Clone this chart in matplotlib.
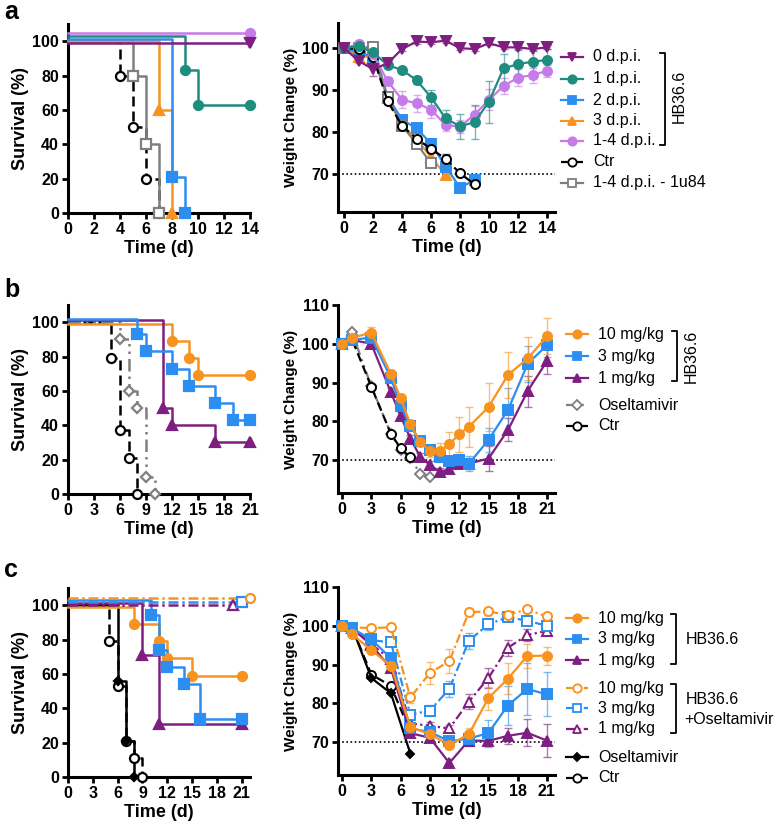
import matplotlib
matplotlib.use('Agg')
import matplotlib.pyplot as plt

plt.rcParams['font.family'] = ['Liberation Sans', 'DejaVu Sans']

# ---------------------------------------------------------------- colours
PURPLE = '#7E1E80'
TEAL = '#1E8C7E'
BLUE = '#2B8EF0'
ORANGE = '#F7931E'
VIOLET = '#C57BE8'
GRAY = '#7F7F7F'
BLACK = '#000000'

# ---------------------------------------------------------------- panel a data
# survival: days of death and survival (%) after each step
a_surv_0dpi_t, a_surv_0dpi_v = [], []
a_surv_1dpi_t, a_surv_1dpi_v = [9, 10], [83, 63]
a_surv_2dpi_t, a_surv_2dpi_v = [8, 9], [21, 0]
a_surv_3dpi_t, a_surv_3dpi_v = [7, 8], [60, 0]
a_surv_14dpi_t, a_surv_14dpi_v = [], []
a_surv_ctr_t, a_surv_ctr_v = [4, 5, 6, 7], [80, 50, 20, 0]
a_surv_1u84_t, a_surv_1u84_v = [5, 6, 7], [80, 40, 0]

a_days = list(range(15))
a_w_0dpi = [100, 97, 95, 96.4, 99.8, 101.6, 101.4, 101.8, 100, 99.8, 101.2, 100.2, 100.2, 99.8, 100.2]
a_e_0dpi = [0, 0.5, 1.5, 1, 0.5, 0.5, 0.5, 0.5, 0.5, 0.5, 0.5, 0.5, 0.5, 0.5, 0.5]
a_w_1dpi = [100, 100.5, 99, 96, 94.8, 92.4, 88.3, 83.3, 81.4, 82.4, 87.3, 95.2, 96.2, 96.8, 97.2]
a_e_1dpi = [0, 0.5, 0.5, 0.5, 0.5, 1, 1.8, 2, 3, 4, 5, 3.5, 3.3, 2.8, 2.5]
a_w_2dpi = [100, 99, 98, 88.5, 83, 80.9, 77.3, 71.8, 66.8, 68.6]
a_e_2dpi = [0, 0.5, 0.5, 1, 1, 1, 1.2, 1, 1, 0.5]
a_w_3dpi = [100, 98, 98, 88.2, 81.7, 78.3, 74.1, 69.8]
a_e_3dpi = [0, 0.5, 0.5, 1, 1, 1, 1.2, 0.5]
a_w_14dpi = [100, 101, 98.5, 92.2, 87.7, 86.9, 85.4, 81.7, 81.3, 84.2, 87.7, 91, 93, 93.6, 94.6]
a_e_14dpi = [0, 1, 1.5, 1, 2, 2, 2, 1.5, 1.5, 2, 2.5, 2, 2, 1.8, 1.5]
a_w_ctr = [100, 99.8, 98, 87.4, 81.5, 78.5, 76, 73.7, 70.2, 67.6]
a_e_ctr = [0, 0.3, 0.5, 0.5, 0.5, 0.5, 0.8, 1.2, 0.5, 0.5]
a_w_1u84 = [100, 100, 100.4, 88.5, 81.5, 77.3, 72.6]
a_e_1u84 = [0, 0.3, 0.3, 0.5, 0.5, 0.5, 0.5]

a_labels = ['0 d.p.i.', '1 d.p.i.', '2 d.p.i.', '3 d.p.i.', '1-4 d.p.i.', 'Ctr', '1-4 d.p.i. - 1u84']

# ---------------------------------------------------------------- panel b data
b_surv_10_t, b_surv_10_v = [12, 14, 15], [89, 79, 69]
b_surv_3_t, b_surv_3_v = [8, 9, 12, 14, 17, 19], [93, 83, 73, 63, 53, 43]
b_surv_1_t, b_surv_1_v = [11, 12, 17], [50, 40, 30]
b_surv_osel_t, b_surv_osel_v = [6, 7, 8, 9, 10], [90, 60, 50, 10, 0]
b_surv_ctr_t, b_surv_ctr_v = [5, 6, 7, 8], [79, 37, 21, 0]

b_days = [0, 1, 3, 5, 6, 7, 8, 9, 10, 11, 12, 13, 15, 17, 19, 21]
b_w_10 = [100, 101.5, 102.9, 92.2, 85.9, 79.3, 74.6, 72.4, 72.3, 74.1, 76.7, 78.6, 83.7, 92, 96.2, 102]
b_e_10 = [0, 0.5, 1.5, 1, 1, 1, 1, 1.5, 2, 3.2, 4.5, 5.2, 6.2, 6, 5.5, 4.6]
b_w_3 = [100, 101, 101.6, 91.2, 84, 78.7, 74.9, 72.6, 70.9, 69.8, 70, 69.1, 75.2, 83, 94.8, 99.7]
b_e_3 = [0, 0.5, 0.5, 1, 1, 1, 1, 1, 1, 1, 1.5, 2, 3, 5.5, 4.6, 3]
b_w_1 = [100, 101, 100, 87.5, 81.4, 75.5, 70.9, 68.7, 67, 67.6, 68.9, 69.1, 70.4, 77.8, 87.8, 95.6]
b_e_1 = [0, 0.5, 0.5, 1, 1, 1, 1, 1, 1, 1, 1, 1.5, 3.3, 3, 4, 3.5]
b_days_osel = [0, 1, 3, 5, 6, 7, 8, 9]
b_w_osel = [100, 103.1, 89, 76.8, 72.6, 70.5, 66.5, 65.7]
b_days_ctr = [0, 1, 3, 5, 6, 7]
b_w_ctr = [100, 101.3, 88.9, 76.8, 73, 70.7]

b_labels = ['10 mg/kg', '3 mg/kg', '1 mg/kg', 'Oseltamivir', 'Ctr']

# ---------------------------------------------------------------- panel c data
c_surv_10_t, c_surv_10_v = [8, 11, 12, 15], [89, 79, 69, 59]
c_surv_3_t, c_surv_3_v = [10, 11, 12, 14, 16], [94, 74, 64, 54, 34]
c_surv_1_t, c_surv_1_v = [9, 11], [71, 31]
c_surv_10o_t, c_surv_10o_v = [], []
c_surv_3o_t, c_surv_3o_v = [], []
c_surv_1o_t, c_surv_1o_v = [], []
c_surv_osel_t, c_surv_osel_v = [6, 7, 8], [56, 21, 0]
c_surv_ctr_t, c_surv_ctr_v = [5, 6, 7, 8, 9], [79, 53, 21, 11, 0]

c_days = [0, 1, 3, 5, 7, 9, 11, 13, 15, 17, 19, 21]
c_w_10 = [100, 97.8, 93.7, 89.7, 73.9, 72, 69.3, 72, 81.3, 86.3, 92.2, 92.3]
c_e_10 = [0, 0.5, 0.8, 0.8, 1, 1, 1, 1.5, 3, 4, 3, 2.3]
c_w_3 = [100, 99.3, 96.5, 91.6, 73.5, 72.6, 70.2, 70.9, 72.3, 79.4, 83.7, 82.3]
c_e_3 = [0, 0.5, 0.8, 0.8, 1, 1, 1, 2, 3.5, 5, 6.6, 5.7]
c_w_1 = [100, 99.5, 95, 89, 72.3, 71.1, 64.6, 70.4, 70.3, 71.6, 72.4, 70.4]
c_e_1 = [0, 0.5, 0.8, 0.8, 1, 1, 1, 1, 1, 2, 3.5, 4.2]
c_w_10o = [100, 99.6, 99.4, 99.6, 81.5, 87.8, 90.9, 103.5, 103.7, 102.8, 104.2, 102.4]
c_e_10o = [0, 0.5, 0.5, 1, 1.5, 2.8, 3, 1, 1, 1, 1, 1]
c_w_3o = [100, 99.3, 96.3, 95.7, 77.1, 78.1, 83.7, 96.1, 100.4, 102.2, 101.3, 100]
c_e_3o = [0, 0.5, 0.5, 1, 1, 1.5, 2, 2, 1.5, 1, 1, 1]
c_w_1o = [100, 99.3, 95.2, 91.3, 74.8, 74.2, 73.5, 80.4, 86.5, 94.3, 97.6, 98.7]
c_e_1o = [0, 0.5, 0.5, 1, 1, 1, 1, 2, 2.5, 2, 1.5, 1]
c_days_ctl = [0, 1, 3, 5, 7]
c_w_osel = [100, 99.7, 86.5, 82.6, 67]
c_w_ctr = [100, 99.6, 87.4, 84.5, 72.6]

c_labels = ['10 mg/kg', '3 mg/kg', '1 mg/kg', '10 mg/kg', '3 mg/kg', '1 mg/kg', 'Oseltamivir', 'Ctr']

# ---------------------------------------------------------------- styles
DASH = (0, (4, 2))
DDOT = (0, (5, 2, 1, 2, 1, 2))
DDASH = (0, (4, 1.5, 1, 1.5))


def st(color, marker, filled=True, ls='-', ms=6.5):
    return dict(color=color, marker=marker, ls=ls, ms=ms,
                mfc=color if filled else 'white', mec=color)


S_a = [st(PURPLE, 'v'), st(TEAL, 'o'), st(BLUE, 's'), st(ORANGE, '^'),
       st(VIOLET, 'o'), st(BLACK, 'o', False, DASH), st(GRAY, 's', False)]
S_b = [st(ORANGE, 'o'), st(BLUE, 's'), st(PURPLE, '^'),
       st(GRAY, 'D', False, DDOT, 5.5), st(BLACK, 'o', False, DASH)]
S_c = [st(ORANGE, 'o'), st(BLUE, 's'), st(PURPLE, '^'),
       st(ORANGE, 'o', False, DDASH), st(BLUE, 's', False, DDASH), st(PURPLE, '^', False, DDASH),
       st(BLACK, 'D', ms=4.5), st(BLACK, 'o', False, DASH)]

W = 778
H = 827
fig = plt.figure(figsize=(W / 100, H / 100), dpi=100)


def px_axes(x0, x1, y_bot, y_top):
    return fig.add_axes([x0 / W, (H - y_bot) / H, (x1 - x0) / W, (y_bot - y_top) / H])


def style_axes(ax):
    for s in ['top', 'right']:
        ax.spines[s].set_visible(False)
    for s in ['left', 'bottom']:
        ax.spines[s].set_linewidth(2.2)
    ax.tick_params(width=2, length=4.5, labelsize=11.5, pad=2)
    for lab in ax.get_xticklabels() + ax.get_yticklabels():
        lab.set_fontweight('bold')


def km(ax, drop_t, drop_v, end, s, top=100, mark_end=True):
    xs, ys = [0], [top]
    cur = top
    for t, v in zip(drop_t, drop_v):
        xs += [t, t]
        ys += [cur, v]
        cur = v
    mx, my = list(drop_t), list(drop_v)
    if cur > 0:
        xs.append(end)
        ys.append(cur)
        if mark_end:
            mx.append(end)
            my.append(cur)
    ax.plot(xs, ys, color=s['color'], ls=s['ls'], lw=1.8, clip_on=False, zorder=3)
    ax.plot(mx, my, ls='none', marker=s['marker'], ms=s['ms'], mfc=s['mfc'], mec=s['mec'],
            mew=1.6, clip_on=False, zorder=4)


def weight(ax, x, y, e, s):
    if e is not None:
        ax.errorbar(x, y, yerr=e, fmt='none', ecolor=s['color'], elinewidth=1,
                    capsize=3, capthick=1, alpha=0.6, zorder=2)
    ax.plot(x, y, color=s['color'], ls=s['ls'], lw=1.6, marker=s['marker'], ms=s['ms'],
            mfc=s['mfc'], mec=s['mec'], mew=1.4, clip_on=False, zorder=3)


def surv_axes(y_bot, y_top, xmax, xticks):
    ax = px_axes(68, 250, y_bot, y_top)
    ax.set_xlim(0, xmax)
    ax.set_ylim(0, 110)
    ax.set_xticks(xticks)
    ax.set_yticks([0, 20, 40, 60, 80, 100])
    style_axes(ax)
    ax.set_xlabel('Time (d)', fontsize=13, fontweight='bold', labelpad=2)
    ax.set_ylabel('Survival (%)', fontsize=13, fontweight='bold', labelpad=2)
    return ax


def weight_axes(y_bot, y_top, xlim, ylim, xticks, yticks):
    ax = px_axes(338, 555, y_bot, y_top)
    ax.set_xlim(*xlim)
    ax.set_ylim(*ylim)
    ax.set_xticks(xticks)
    ax.set_yticks(yticks)
    style_axes(ax)
    ax.axhline(70, color='k', ls=(0, (1, 1.5)), lw=1.2, zorder=1)
    ax.set_xlabel('Time (d)', fontsize=13, fontweight='bold', labelpad=2)
    ax.set_ylabel('Weight Change (%)', fontsize=11, fontweight='bold', labelpad=3)
    return ax


# ---------------------------------------------------------------- panel a
ax = surv_axes(213, 24, 14, range(0, 15, 2))
km(ax, a_surv_ctr_t, a_surv_ctr_v, 14, S_a[5])
km(ax, a_surv_1u84_t, a_surv_1u84_v, 14, S_a[6])
km(ax, a_surv_3dpi_t, a_surv_3dpi_v, 14, S_a[3])
km(ax, a_surv_2dpi_t, a_surv_2dpi_v, 14, S_a[2], top=101)
km(ax, a_surv_1dpi_t, a_surv_1dpi_v, 14, S_a[1], top=103)
km(ax, a_surv_14dpi_t, a_surv_14dpi_v, 14, S_a[4], top=105)
km(ax, a_surv_0dpi_t, a_surv_0dpi_v, 14, S_a[0], top=99)

ax = weight_axes(212, 23, (-0.42, 14.55), (61, 106), range(0, 15, 2), [70, 80, 90, 100])
weight(ax, a_days[:len(a_w_3dpi)], a_w_3dpi, a_e_3dpi, S_a[3])
weight(ax, a_days[:len(a_w_2dpi)], a_w_2dpi, a_e_2dpi, S_a[2])
weight(ax, a_days[:len(a_w_1u84)], a_w_1u84, a_e_1u84, S_a[6])
weight(ax, a_days[:len(a_w_ctr)], a_w_ctr, a_e_ctr, S_a[5])
weight(ax, a_days, a_w_14dpi, a_e_14dpi, S_a[4])
weight(ax, a_days, a_w_1dpi, a_e_1dpi, S_a[1])
weight(ax, a_days, a_w_0dpi, a_e_0dpi, S_a[0])

# ---------------------------------------------------------------- panel b
ax = surv_axes(494, 305, 21, range(0, 22, 3))
km(ax, b_surv_ctr_t, b_surv_ctr_v, 21, S_b[4])
km(ax, b_surv_osel_t, b_surv_osel_v, 21, S_b[3])
km(ax, b_surv_10_t, b_surv_10_v, 21, S_b[0], top=99)
km(ax, b_surv_1_t, b_surv_1_v, 21, S_b[2], top=101)
km(ax, b_surv_3_t, b_surv_3_v, 21, S_b[1], top=102)

ax = weight_axes(493, 305, (-0.41, 21.8), (61.5, 110), range(0, 22, 3), [70, 80, 90, 100, 110])
weight(ax, b_days_osel, b_w_osel, None, S_b[3])
weight(ax, b_days_ctr, b_w_ctr, None, S_b[4])
weight(ax, b_days, b_w_1, b_e_1, S_b[2])
weight(ax, b_days, b_w_3, b_e_3, S_b[1])
weight(ax, b_days, b_w_10, b_e_10, S_b[0])

# ---------------------------------------------------------------- panel c
ax = surv_axes(777, 588, 22, range(0, 22, 3))
km(ax, c_surv_ctr_t, c_surv_ctr_v, 21, S_c[7])
km(ax, c_surv_osel_t, c_surv_osel_v, 21, S_c[6])
km(ax, c_surv_10_t, c_surv_10_v, 21, S_c[0], top=99)
km(ax, c_surv_1_t, c_surv_1_v, 21, S_c[2], top=101)
km(ax, c_surv_3_t, c_surv_3_v, 21, S_c[1], top=103)
km(ax, c_surv_1o_t, c_surv_1o_v, 20, S_c[5], top=100)
km(ax, c_surv_3o_t, c_surv_3o_v, 21, S_c[4], top=102)
km(ax, c_surv_10o_t, c_surv_10o_v, 22, S_c[3], top=104)

ax = weight_axes(775, 587, (-0.43, 21.85), (61.5, 110), range(0, 22, 3), [70, 80, 90, 100, 110])
weight(ax, c_days_ctl, c_w_ctr, None, S_c[7])
weight(ax, c_days_ctl, c_w_osel, None, S_c[6])
weight(ax, c_days, c_w_1o, c_e_1o, S_c[5])
weight(ax, c_days, c_w_3o, c_e_3o, S_c[4])
weight(ax, c_days, c_w_10o, c_e_10o, S_c[3])
weight(ax, c_days, c_w_1, c_e_1, S_c[2])
weight(ax, c_days, c_w_3, c_e_3, S_c[1])
weight(ax, c_days, c_w_10, c_e_10, S_c[0])

# ---------------------------------------------------------------- legends and labels (pixel overlay)
lax = fig.add_axes([0, 0, 1, 1])
lax.set_xlim(0, W)
lax.set_ylim(H, 0)
lax.axis('off')


def legend_rows(xm, ys, styles, labels):
    for y, s, lab in zip(ys, styles, labels):
        lax.plot([xm - 11, xm + 11], [y, y], color=s['color'], ls=s['ls'], lw=1.6)
        lax.plot([xm], [y], marker=s['marker'], ms=min(s['ms'], 6), mfc=s['mfc'], mec=s['mec'], mew=1.3)
        lax.text(xm + 21, y, lab, fontsize=11.5, va='center', ha='left')


def bracket(x, y0, y1):
    lax.plot([x - 5, x, x, x - 5], [y0, y0, y1, y1], color='k', lw=1.3)


legend_rows(572, [57, 79, 100, 121, 141, 162, 183], S_a, a_labels)
bracket(665, 53, 145)
lax.text(679, 96, 'HB36.6', rotation=90, fontsize=11.5, va='center', ha='center')

legend_rows(577, [334, 356, 378, 405, 426], S_b, b_labels)
bracket(677, 331, 381)
lax.text(691, 356, 'HB36.6', rotation=90, fontsize=11.5, va='center', ha='center')

legend_rows(577, [618, 639, 660, 688, 708, 729, 757, 778], S_c, c_labels)
bracket(676, 614, 664)
bracket(676, 684, 733)
lax.text(686, 639, 'HB36.6', fontsize=11.5, va='center', ha='left')
lax.text(686, 700, 'HB36.6', fontsize=11.5, va='center', ha='left')
lax.text(684, 720, '+Oseltamivir', fontsize=11.5, va='center', ha='left')

for lab, y in [('a', 12), ('b', 290), ('c', 570)]:
    lax.text(4, y, lab, fontsize=18, fontweight='bold', va='center', ha='left')

fig.savefig('out.png', dpi=100)
